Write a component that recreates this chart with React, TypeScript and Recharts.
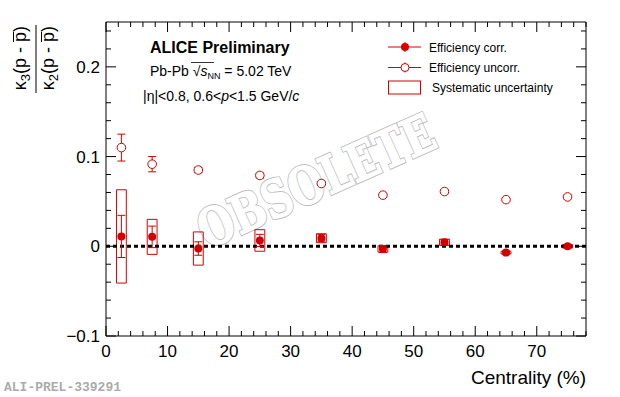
import {
  ComposedChart,
  ErrorBar,
  ReferenceArea,
  ReferenceLine,
  Scatter,
  XAxis,
  YAxis,
} from "recharts";

// centrality bins (%)
const centrality = [2.5, 7.5, 15, 25, 35, 45, 55, 65, 75];
// kappa3/kappa2, efficiency corrected
const corrValues = [0.011, 0.0105, -0.0025, 0.0065, 0.009, -0.003, 0.0045, -0.007, 0.0];
const corrStat = [0.0235, 0.012, 0.0075, 0.0068, 0.004, 0.004, 0.003, 0.0015, 0.0015];
const corrSys = [0.052, 0.0195, 0.0185, 0.012, 0.005, 0.0035, 0.0035, 0.0015, 0.002];
// efficiency uncorrected
const uncorrValues = [0.11, 0.0915, 0.085, 0.079, 0.07, 0.057, 0.061, 0.052, 0.055];
const uncorrStat = [0.015, 0.0085, 0.003, 0.003, 0.002, 0.002, 0.002, 0.002, 0.002];

const xMajorTicks = [0, 10, 20, 30, 40, 50, 60, 70];
const xMinorTicks = [2, 4, 6, 8, 12, 14, 16, 18, 22, 24, 26, 28, 32, 34, 36, 38, 42, 44, 46, 48, 52, 54, 56, 58, 62, 64, 66, 68, 72, 74, 76, 78];
const yMajorTicks = [-0.1, 0, 0.1, 0.2];
const yMinorTicks = [-0.08, -0.06, -0.04, -0.02, 0.02, 0.04, 0.06, 0.08, 0.12, 0.14, 0.16, 0.18, 0.22, 0.24];

const X_DOMAIN = [0, 78];
const Y_DOMAIN = [-0.1, 0.25];
const BIN_HALF = 0.8; // half width of systematic boxes, in centrality units

const RED = "#d40000";
const FONT = "'Liberation Sans', Arial, Helvetica, sans-serif";

const corrData = centrality.map((x, i) => ({ x, y: corrValues[i], err: corrStat[i] }));
const uncorrData = centrality.map((x, i) => ({ x, y: uncorrValues[i], err: uncorrStat[i] }));

const isMajor = (v: number, majors: number[]) => majors.some((m) => Math.abs(m - v) < 1e-9);

const fmtY = (v: number) => {
  if (Math.abs(v) < 1e-9) return "0";
  return v < 0 ? "\u2212" + Math.abs(v).toString() : v.toString();
};

type Side = "bottom" | "top" | "left" | "right";

const makeTick = (side: Side) => (props: any) => {
  const { x, y, payload } = props;
  const v = payload.value as number;
  const horizontal = side === "bottom" || side === "top";
  const major = isMajor(v, horizontal ? xMajorTicks : yMajorTicks);
  const len = major ? 10 : 5;
  let line;
  if (side === "bottom") line = <line x1={x} x2={x} y1={y} y2={y - len} stroke="#000" />;
  else if (side === "top") line = <line x1={x} x2={x} y1={y} y2={y + len} stroke="#000" />;
  else if (side === "left") line = <line x1={x} x2={x + len} y1={y} y2={y} stroke="#000" />;
  else line = <line x1={x} x2={x - len} y1={y} y2={y} stroke="#000" />;

  let label = null;
  if (major && side === "bottom") {
    label = (
      <text x={x} y={y + 21} textAnchor="middle" fontSize={17} fontFamily={FONT} fill="#000">
        {v}
      </text>
    );
  } else if (major && side === "left") {
    label = (
      <text x={x - 6} y={y + 6} textAnchor="end" fontSize={17} fontFamily={FONT} fill="#000">
        {fmtY(v)}
      </text>
    );
  }
  return (
    <g>
      {line}
      {label}
    </g>
  );
};

const FilledDot = (p: any) => <circle cx={p.cx} cy={p.cy} r={4} fill={RED} />;
const OpenDot = (p: any) => (
  <circle cx={p.cx} cy={p.cy} r={4.3} fill="white" stroke={RED} strokeWidth={1} />
);

const WM_FONT = "'DejaVu Serif', 'Liberation Serif', serif";

function Watermark() {
  const common = {
    textAnchor: "middle" as const,
    dominantBaseline: "central" as const,
    fontFamily: WM_FONT,
    fontWeight: "bold",
    fontSize: 52,
    textLength: 254,
    lengthAdjust: "spacingAndGlyphs" as const,
    fill: "white",
  };
  return (
    <svg width={620} height={397} style={{ position: "absolute", left: 0, top: 0 }}>
      <g transform="translate(316,181) rotate(-24)">
        <text {...common} stroke="#bdbdbd" strokeWidth={3.2}>
          OBSOLETE
        </text>
        <text {...common} stroke="white" strokeWidth={1.2}>
          OBSOLETE
        </text>
      </g>
    </svg>
  );
}

function YTitlePart({ x, sub }: { x: number; sub: string }) {
  return (
    <g transform={`translate(${x},26) rotate(-90)`}>
      <text textAnchor="end" fontSize={18}>
        κ<tspan dy={4} fontSize={13}>{sub}</tspan>
        <tspan dy={-4}>(p - p)</tspan>
      </text>
    </g>
  );
}

function Annotations() {
  return (
    <svg
      width={620}
      height={397}
      style={{ position: "absolute", left: 0, top: 0, pointerEvents: "none" }}
      fontFamily={FONT}
    >
      {/* y axis title: kappa3 / kappa2 with anti-proton bars */}
      <YTitlePart x={26} sub="3" />
      <line x1={13.5} x2={13.5} y1={32} y2={42} stroke="#000" />
      <line x1={36} x2={36} y1={25} y2={93} stroke="#000" />
      <YTitlePart x={54} sub="2" />
      <line x1={41.5} x2={41.5} y1={32} y2={42} stroke="#000" />

      <text x={586} y={384} textAnchor="end" fontSize={19}>
        Centrality (%)
      </text>

      <text x={150} y={53} fontSize={16} fontWeight="bold">
        ALICE Preliminary
      </text>
      <text x={150} y={76} fontSize={14}>
        Pb-Pb √<tspan fontStyle="italic">s</tspan>
        <tspan dy={3} fontSize={9}>NN</tspan>
        <tspan dy={-3}> = 5.02 TeV</tspan>
      </text>
      <line x1={191} x2={214} y1={62.5} y2={62.5} stroke="#000" strokeWidth={0.8} />
      <text x={143} y={101} fontSize={14}>
        |η|&lt;0.8, 0.6&lt;<tspan fontStyle="italic">p</tspan>&lt;1.5 GeV/<tspan fontStyle="italic">c</tspan>
      </text>

      {/* legend */}
      <line x1={388} x2={421} y1={47} y2={47} stroke={RED} />
      <line x1={405} x2={405} y1={42} y2={52} stroke={RED} />
      <circle cx={405} cy={47} r={4} fill={RED} />
      <text x={429} y={51.5} fontSize={12}>
        Efficiency corr.
      </text>
      <line x1={388} x2={421} y1={67.5} y2={67.5} stroke={RED} />
      <line x1={405} x2={405} y1={62.5} y2={72.5} stroke={RED} />
      <circle cx={405} cy={67.5} r={4} fill="white" stroke={RED} />
      <text x={429} y={72} fontSize={12}>
        Efficiency uncorr.
      </text>
      <rect x={388.5} y={81} width={32} height={13} fill="none" stroke={RED} />
      <text x={432} y={92} fontSize={12}>
        Systematic uncertainty
      </text>

      <text
        x={4}
        y={391}
        fontSize={13}
        fontWeight="bold"
        fill="#ababab"
        fontFamily="'Liberation Mono', 'DejaVu Sans Mono', monospace"
      >
        ALI-PREL-339291
      </text>
    </svg>
  );
}

export default function App() {
  const xTicks = [...xMajorTicks, ...xMinorTicks].sort((a, b) => a - b);
  const yTicks = [...yMajorTicks, ...yMinorTicks].sort((a, b) => a - b);
  const axisLine = { stroke: "#000", strokeWidth: 1 };

  return (
    <div
      style={{
        position: "absolute",
        left: 0,
        top: 0,
        width: 620,
        height: 397,
        background: "white",
        overflow: "hidden",
      }}
    >
      <Watermark />
      <div style={{ position: "absolute", left: 0, top: 0 }}>
        <ComposedChart width={620} height={397} margin={{ top: 21, right: 33, bottom: 0, left: 0 }}>
          <XAxis
            dataKey="x"
            type="number"
            domain={X_DOMAIN}
            allowDataOverflow
            ticks={xTicks}
            interval={0}
            tickLine={false}
            tickSize={0}
            tickMargin={0}
            height={61}
            axisLine={axisLine}
            tick={makeTick("bottom")}
          />
          <XAxis
            xAxisId="top"
            orientation="top"
            dataKey="x"
            type="number"
            domain={X_DOMAIN}
            allowDataOverflow
            ticks={xTicks}
            interval={0}
            tickLine={false}
            tickSize={0}
            tickMargin={0}
            height={1}
            axisLine={axisLine}
            tick={makeTick("top")}
          />
          <YAxis
            dataKey="y"
            type="number"
            domain={Y_DOMAIN}
            allowDataOverflow
            ticks={yTicks}
            interval={0}
            tickLine={false}
            tickSize={0}
            tickMargin={0}
            width={106}
            axisLine={axisLine}
            tick={makeTick("left")}
          />
          <YAxis
            yAxisId="right"
            orientation="right"
            dataKey="y"
            type="number"
            domain={Y_DOMAIN}
            allowDataOverflow
            ticks={yTicks}
            interval={0}
            tickLine={false}
            tickSize={0}
            tickMargin={0}
            width={1}
            axisLine={axisLine}
            tick={makeTick("right")}
          />

          {centrality.map((c, i) => (
            <ReferenceArea
              key={c}
              x1={c - BIN_HALF}
              x2={c + BIN_HALF}
              y1={corrValues[i] - corrSys[i]}
              y2={corrValues[i] + corrSys[i]}
              fill="none"
              fillOpacity={0}
              stroke={RED}
              strokeWidth={1}
              strokeOpacity={1}
            />
          ))}

          <ReferenceLine y={0} stroke="#000" strokeWidth={3} strokeDasharray="4 3" />

          <Scatter data={uncorrData} dataKey="y" shape={OpenDot} isAnimationActive={false}>
            <ErrorBar dataKey="err" direction="y" width={4} stroke={RED} strokeWidth={1} />
          </Scatter>
          <Scatter data={corrData} dataKey="y" shape={FilledDot} isAnimationActive={false}>
            <ErrorBar dataKey="err" direction="y" width={4} stroke={RED} strokeWidth={1} />
          </Scatter>
        </ComposedChart>
      </div>
      <Annotations />
    </div>
  );
}
